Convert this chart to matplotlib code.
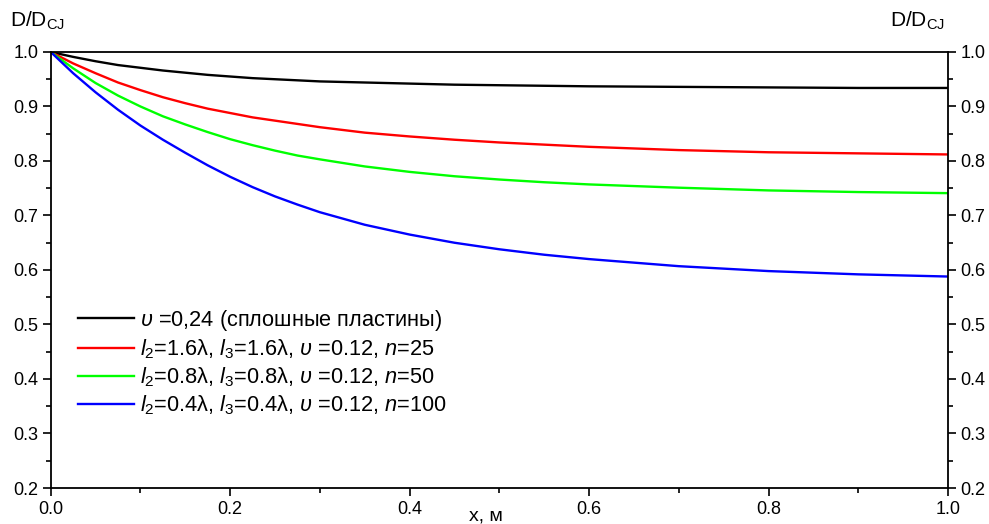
import numpy as np
import matplotlib
matplotlib.use('Agg')
import matplotlib.pyplot as plt
from matplotlib.ticker import MultipleLocator

plt.rcParams['font.family'] = ['Liberation Sans', 'DejaVu Sans']
plt.rcParams['mathtext.fontset'] = 'custom'
plt.rcParams['mathtext.rm'] = 'Liberation Sans'
plt.rcParams['mathtext.it'] = 'Liberation Sans:italic'
plt.rcParams['mathtext.bf'] = 'Liberation Sans:bold'

# x coordinate, m
x = [0.0, 0.025, 0.05, 0.075, 0.1, 0.125, 0.15, 0.175, 0.2, 0.225, 0.25,
     0.275, 0.3, 0.35, 0.4, 0.45, 0.5, 0.55, 0.6, 0.7, 0.8, 0.9, 1.0]

# D/D_CJ
d_solid = [1.0, 0.991, 0.983, 0.976, 0.971, 0.966, 0.962, 0.958, 0.955, 0.952,
           0.950, 0.948, 0.946, 0.944, 0.942, 0.940, 0.939, 0.938, 0.937,
           0.936, 0.935, 0.934, 0.934]
d_n25 = [1.0, 0.979, 0.961, 0.944, 0.930, 0.917, 0.906, 0.896, 0.888, 0.880,
         0.874, 0.868, 0.862, 0.852, 0.845, 0.839, 0.834, 0.830, 0.826,
         0.820, 0.816, 0.814, 0.812]
d_n50 = [1.0, 0.970, 0.943, 0.920, 0.900, 0.882, 0.867, 0.853, 0.840, 0.829,
         0.819, 0.810, 0.803, 0.790, 0.780, 0.772, 0.766, 0.761, 0.757,
         0.751, 0.746, 0.743, 0.741]
d_n100 = [1.0, 0.961, 0.926, 0.894, 0.865, 0.839, 0.815, 0.792, 0.771, 0.752,
          0.735, 0.720, 0.706, 0.683, 0.665, 0.650, 0.638, 0.628, 0.620,
          0.607, 0.598, 0.592, 0.588]

labels = [
    r'$\upsilon$ =0,24 (сплошные пластины)',
    r'$l_2$=1.6λ, $l_3$=1.6λ, $\upsilon$ =0.12, $n$=25',
    r'$l_2$=0.8λ, $l_3$=0.8λ, $\upsilon$ =0.12, $n$=50',
    r'$l_2$=0.4λ, $l_3$=0.4λ, $\upsilon$ =0.12, $n$=100',
]
colors = ['#000000', '#ff0000', '#00ff00', '#0000ff']

fig = plt.figure(figsize=(9.89, 5.24), dpi=100)
ax = fig.add_axes([0.0513, 0.0687, 0.9072, 0.8321])

for ys, c, lab in zip([d_solid, d_n25, d_n50, d_n100], colors, labels):
    ax.plot(x, ys, color=c, lw=1.7, label=lab)

ax.set_xlim(0, 1.0)
ax.set_ylim(0.2, 1.0)
ax.xaxis.set_major_locator(MultipleLocator(0.2))
ax.xaxis.set_minor_locator(MultipleLocator(0.1))
ax.yaxis.set_major_locator(MultipleLocator(0.1))
ax.yaxis.set_minor_locator(MultipleLocator(0.05))
ax.xaxis.set_major_formatter(lambda v, p: f'{v:.1f}')
ax.yaxis.set_major_formatter(lambda v, p: f'{v:.1f}')

ax.tick_params(which='both', direction='out', top=False, right=True,
               labelright=True, labelsize=13, width=1.2, pad=3)
ax.tick_params(which='major', length=6)
ax.tick_params(which='minor', length=3.5)
for s in ax.spines.values():
    s.set_linewidth(1.3)

fig.text(10 / 989, 1 - 27 / 524, r'D/D$_{\mathrm{CJ}}$', fontsize=15,
         ha='left', va='baseline')
fig.text(890 / 989, 1 - 27 / 524, r'D/D$_{\mathrm{CJ}}$', fontsize=15,
         ha='left', va='baseline')
fig.text(486 / 989, 1 - 516 / 524, 'x, м', fontsize=14,
         ha='center', va='center')

ax.legend(loc='center left', bbox_to_anchor=(0.03, 0.288), frameon=False,
          fontsize=15.7, borderpad=0, borderaxespad=0, handlelength=2.6,
          handletextpad=0.25, labelspacing=0.2)

fig.savefig('out.png', dpi=100)
